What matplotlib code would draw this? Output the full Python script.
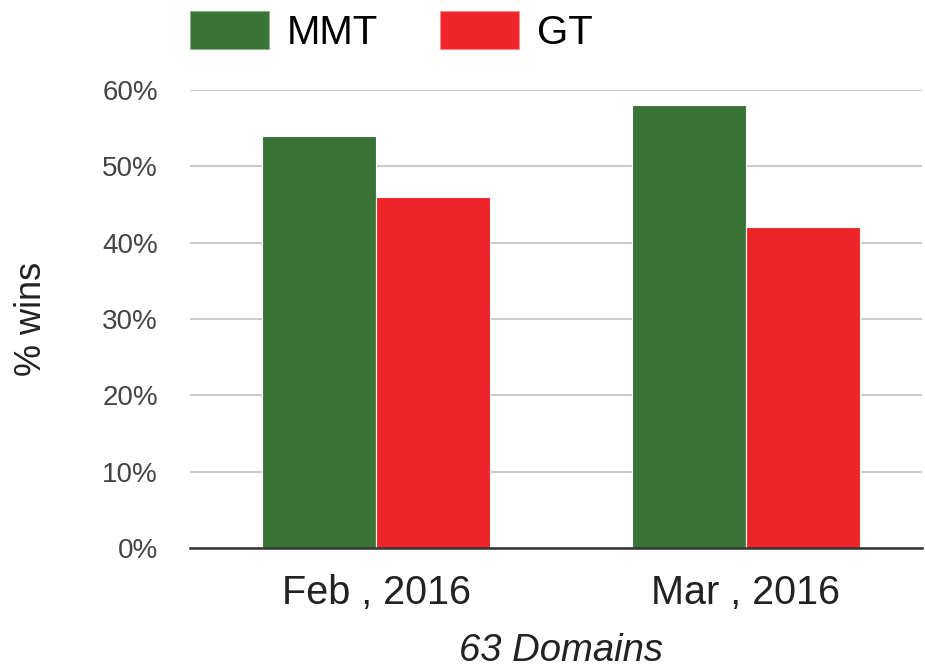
import matplotlib
matplotlib.use("Agg")
import matplotlib.pyplot as plt
import numpy as np
from matplotlib.patches import Patch

categories = ["Feb , 2016", "Mar , 2016"]
series_names = ["MMT", "GT"]
mmt = [54, 58]
gt = [46, 42]
yticks = [0, 10, 20, 30, 40, 50, 60]
colors = ["#3a7336", "#ee2528"]

plt.rcParams["font.family"] = ["Liberation Sans", "DejaVu Sans"]

fig = plt.figure(figsize=(9.25, 6.7), dpi=100)
ax = fig.add_axes([190/925, 1 - 548/670, 732/925, 458/670])

x = np.arange(len(categories))
w = 0.308
ax.bar(x - w/2, mmt, w, color=colors[0], edgecolor="white", linewidth=0.8, zorder=3)
ax.bar(x + w/2, gt, w, color=colors[1], edgecolor="white", linewidth=0.8, zorder=3)

ax.set_xlim(-0.503, 1.476)
ax.set_ylim(0, 60)
ax.set_yticks(yticks)
ax.set_yticklabels([f"{v}%" for v in yticks], fontsize=20, color="#444444")
ax.set_xticks(x)
ax.set_xticklabels(categories, fontsize=28.5, color="#222222")
ax.tick_params(axis="both", length=0)
ax.tick_params(axis="y", pad=23)
ax.tick_params(axis="x", pad=19)
ax.grid(axis="y", color="#cccccc", linewidth=1.5, zorder=0)
for s in ["top", "right", "left"]:
    ax.spines[s].set_visible(False)
ax.spines["bottom"].set_color("#333333")
ax.spines["bottom"].set_linewidth(1.8)
ax.spines["bottom"].set_zorder(4)

ax.set_ylabel("% wins", fontsize=26, color="#222222")
ax.yaxis.set_label_coords(-0.192, 0.5)
ax.set_xlabel("63 Domains", fontsize=27.5, style="italic", color="#222222")
ax.xaxis.set_label_coords(0.507, -0.186)

handles = [Patch(facecolor=colors[0], edgecolor="#8fb08c", linewidth=0.8),
           Patch(facecolor=colors[1], edgecolor="#f08a8a", linewidth=0.8)]
fig.legend(handles, series_names, loc="upper left",
           bbox_to_anchor=(190/925, 1 - 11/670), ncol=2, frameon=False,
           fontsize=29, handlelength=1.95, handleheight=1.07,
           handletextpad=0.45, columnspacing=1.55, borderpad=0, borderaxespad=0)

fig.savefig("out.png", dpi=100)
